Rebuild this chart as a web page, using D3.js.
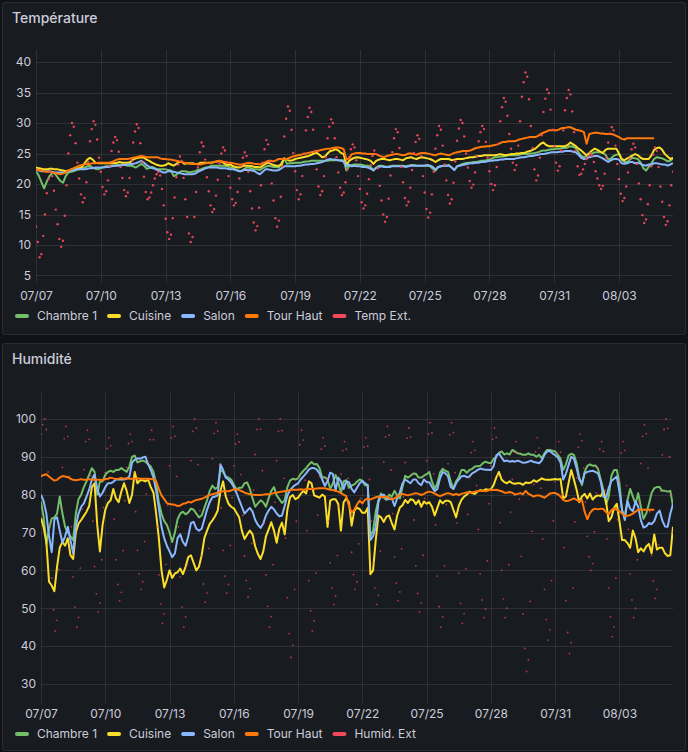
<!DOCTYPE html>
<html>
<head>
<meta charset="utf-8">
<script src="https://cdn.jsdelivr.net/npm/d3@7"></script>
<style>
  html, body { margin: 0; padding: 0; background: #111217; }
  svg { display: block; font-family: Inter, "Noto Sans", sans-serif; }
</style>
</head>
<body>
<svg id="chart" width="688" height="752"></svg>
<script>
// Sensor dashboard: temperature + humidity, 07/07 -> 08/05

// Time base: lines sampled every 3h, outdoor readings every 2h
const startDate = Date.UTC(2024, 6, 7);
const HOUR = 3600 * 1000;
const lineStepHours = 3;
const extStepHours = 2;
const spanDays = 29.5;

const seriesNames = ['Chambre 1', 'Cuisine', 'Salon', 'Tour Haut'];
const seriesColors = ['#73BF69', '#FADE2A', '#8AB8FF', '#FF780A'];
const extColor = '#F2495C';

const xTickLabels = ['07/07', '07/10', '07/13', '07/16', '07/19', '07/22', '07/25', '07/28', '07/31', '08/03'];
const tempTicks = [5, 10, 15, 20, 25, 30, 35, 40];
const humTicks = [30, 40, 50, 60, 70, 80, 90, 100];

// Température (°C)
const tempChambre = [
  22.1,21.4,20.3,19.3,20.4,21.3,21.8,21.7,21.1,20.5, 20.2,21.3,21.9,22,22.1,22.3,22.4,22.6,22.7,22.9,
  23,22.7,22.5,22.4,22.6,22.8,22.9,22.9,23,23, 23.1,23.1,23.2,23.1,23,23,22.9,22.7,23,23.3,
  23,22.5,22.6,22.8,22.6,22.4,22.4,22.4,22.4,22.3, 22.2,21.3,21.5,21.9,22.1,22.1,22,21.9,22,22.1,
  22.3,22.4,22.6,22.7,22.8,23,23,23,23,23, 23,22.9,22.7,22.6,22.4,22.2,22.1,22.4,22.7,22.7,
  22.5,22.4,22.4,22.3,22.6,22.8,23,22.9,22.8,22.8, 22.7,23.5,24.2,23.3,23.4,23.4,23.5,23.5,23.5,23.6,
  23.7,23.7,23.8,23.8,23.8,23.8,23.8,23.8,23.8,23.9, 23.9,23.9,23.9,23.9,23.9,22.2,22.9,23.1,23.2,23.2,
  23.2,23.1,23,23,22.8,22.2,22.7,23,23,22.9, 22.8,22.9,23,23,23,23,23,22.9,23,23.1,
  23.1,23,23,23,23,23,22.9,22.5,22.2,22.8, 22.9,23,23,23.1,22.7,22.3,22.9,23.1,23.3,23.4,
  23.5,23.5,23.6,23.6,23.7,23.8,23.8,23.9,24,24.2, 24.4,24.4,24.5,24.5,24.6,24.7,24.7,24.7,24.7,24.8,
  24.9,24.9,24.9,25,25,25.1,25.2,25.4,25.5,25.5, 25.6,25.7,25.7,25.8,25.8,25.9,25.9,26,26.2,26.1,
  25.9,25.2,24.6,24.4,24.6,24.9,25,25.2,25.2,25.2, 25.1,24.8,24,24.2,24.6,24.8,24.9,24,23.6,23.6,
  24,24.3,24.2,24.1,23.5,22.6,22.2,22.8,23.4,24.1, 24.4,24.3,24.2,24,23.7,23.8,24.2
];
const tempCuisine = [
  22.7,22.6,22.5,22.4,22.4,22.5,22.5,22.4,22.4,22.3, 22.2,22.1,22.2,22.4,22.5,22.6,22.6,22.8,23.4,24,
  24.3,24,23.5,23.4,23.4,23.4,23.4,23.4,23.4,23.4, 23.5,23.6,23.5,23.5,23.5,23.6,24,24.2,24.3,24.4,
  24.3,24,23.8,23.5,23.3,23.1,23,23,23.1,23.4, 23.2,23,23.3,23.6,23.6,23.3,23.4,23.4,23.4,23.3,
  23.3,23.5,23.5,23.5,23.5,23.5,23.6,23.7,23.8,23.6, 23.3,23.1,23.2,22.9,22.8,22.7,22.8,23,23,23,
  22.9,22.8,22.8,22.7,23,23.3,23.5,23.3,23.1,23, 23,23.2,24.2,24,23.8,23.9,24.1,24.2,24.3,24.4,
  24.5,24.6,24.8,25,25.1,24.8,24.4,24.5,25,25.4, 25.5,25.7,25.5,25.1,24.9,23.1,23.8,24.1,24.3,24.4,
  24.3,24.2,24.1,24,23.8,23.3,23.8,24,24.1,24.1, 24,23.9,24,24.1,24.1,24,23.9,24.2,24.3,24.4,
  24.2,24.1,24.3,24.4,24.3,24.2,24.1,23.9,23.6,23.9, 24.1,24.1,24.1,24.1,23.9,24,24.1,24.1,24.1,24.2,
  24.3,24.4,24.4,24.5,24.6,24.6,24.7,24.7,24.7,24.7, 24.7,24.8,24.9,24.8,24.7,24.8,24.9,24.9,25,25,
  25.1,25.1,25.3,25.4,25.6,25.8,26.2,26.6,26.8,26.4, 26.2,26.2,26.2,26.2,26.2,26.2,26.2,26.4,26.8,26.5,
  26.2,25.8,25.5,25.1,24.7,25.1,25.5,25.8,25.6,25.3, 25.1,25.6,25.8,25.8,25.8,25.8,25,24.1,23.9,24.2,
  24.4,24.7,24.9,24.7,24.3,24.1,24.1,24.1,24.7,25.6, 25.9,26,25.6,24.9,24.5,24.1,24.3
];
const tempSalon = [
  22.4,22.2,22.1,22.1,22.1,22.1,22,21.9,21.9,21.9, 21.9,21.9,22.1,22.2,22.3,22.4,22.4,22.4,22.4,22.5,
  22.6,22.6,22.7,22.7,22.7,22.7,22.8,22.8,22.9,23, 23,23,23.1,23.1,23.2,23.3,23.3,23.4,23.6,23.8,
  23.5,23.1,22.8,22.6,22.5,22.3,22.1,21.9,21.9,22.1, 22.1,22,21.9,21.8,21.7,21.6,21.6,21.6,21.6,21.7,
  22,22.2,22.4,22.6,22.7,22.7,22.7,22.7,22.6,22.6, 22.6,22.5,22.4,22.4,22.3,22.1,22.1,22.3,22.3,22.3,
  22.2,22.1,21.8,21.6,22,22.4,22.4,22.3,22.2,22.2, 22.3,22.6,22.9,22.9,22.9,22.9,22.9,23,23,23.1,
  23.2,23.2,23.3,23.3,23.4,23.5,23.6,23.8,24,24.1, 24,24,23.9,23.8,23.7,22.9,23.2,22.9,23,22.9,
  22.9,22.8,22.8,22.7,22.5,22.3,22.6,22.8,22.9,22.8, 22.8,22.8,22.9,22.9,22.9,22.9,22.9,22.8,22.9,23,
  23,23,23,23,23,23.1,23,22.8,22.4,22.8, 22.9,23,23,23,22.7,22.3,22.9,23,23.1,23.2,
  23.3,23.4,23.4,23.5,23.5,23.6,23.6,23.7,23.8,23.8, 23.9,23.9,24,24,24.1,24.1,24.1,24.1,24.2,24.3,
  24.4,24.4,24.5,24.6,24.6,24.7,24.8,24.9,24.9,25, 25.1,25.2,25.2,25.2,25.3,25.3,25.4,25.4,25.4,25.3,
  25.2,24.8,24.3,24.1,24.2,24.4,24.5,24.6,24.6,24.4, 24.2,23.9,23.6,23.9,24.1,24.1,24,23.4,23.3,23.4,
  23.6,23.6,23.4,23.5,23.3,23.1,23,23.2,23.2,23.4, 23.4,23.3,23.2,23.2,23,23.2,23.4
];
const tempTourHaut = [
  22.4,22.3,22.2,22.1,22,22,21.9,21.8,21.7,21.6, 21.7,21.9,22.2,22.4,22.6,22.8,23,23.1,23.2,23.3,
  23.3,23.4,23.4,23.5,23.5,23.5,23.5,23.5,23.6,23.8, 24,24.1,24.1,24.1,24.1,24.2,24.3,24.4,24.5,24.6,
  24.5,24.4,24.4,24.4,24.4,24.4,24.2,24.1,24.1,24, 24,23.9,23.8,23.7,23.6,23.5,23.4,23.3,23.3,23.3,
  23.2,23.2,23.3,23.4,23.5,23.5,23.6,23.7,23.8,23.7, 23.6,23.5,23.5,23.4,23.3,23.2,23.2,23.3,23.4,23.5,
  23.4,23.3,23.3,23.2,23.4,23.6,23.8,23.8,23.7,23.9, 24.1,24.1,24.1,24.1,24.3,24.5,24.6,24.7,24.8,24.9,
  25,25.1,25.2,25.3,25.4,25.5,25.6,25.7,25.8,25.8, 25.9,26,26,25.9,25.7,24,24.2,24.9,25,25.1,
  25.1,25,25,24.9,24.9,24.9,24.9,24.7,24.5,24.4, 24.6,24.7,24.8,24.9,24.9,24.8,24.7,24.8,25,25,
  24.9,24.8,25,25.1,25.1,25,24.9,24.8,24.7,24.9, 25,24.9,24.8,24.7,24.9,25.1,25.2,25.3,25.4,25.4,
  25.4,25.5,25.7,25.9,26,26.1,26.1,26.2,26.2,26.3, 26.4,26.5,26.7,26.9,26.9,27,27,27,27.1,27.3,
  27.4,27.5,27.6,27.7,27.7,27.7,27.9,28.2,28.4,28.6, 28.8,28.8,28.8,28.8,29,29.2,29.2,29.3,29.3,29.1,
  28.9,28.8,28.7,28.5,26.6,28.2,28.3,28.4,28.4,28.3, 28.3,28.2,28.2,28.2,28.1,27.9,27.7,27.4,27.3,27.5,
  27.5,27.5,27.5,27.5,27.5,27.5,27.5,27.5,27.5,27.5
];
const tempExt = [
  13,10.5,8,8.5,11.5,15,18.5,20.8,22,21.3,18.9,15.8,
  13.4,11,9.7,10.7,14.8,19.8,25,28,30,29.4,26.7,23.5,
  20.9,18.3,17,17.7,20.3,23.6,27,29,30.3,29.7,27.3,24.3,
  22,19.5,18.3,18.8,20.6,23,25.4,26.8,27.7,27.2,25.3,22.8,
  21,19,18,18.6,21,23.9,26.8,28.6,29.8,29.2,26.7,23.6,
  21.2,18.7,17.5,17.8,18.6,19.8,20.9,21.6,22,21.4,19.2,16.5,
  14.3,12.1,11,11.7,14.4,17.8,21.1,23.2,24.5,23.8,21,17.5,
  14.6,11.9,10.5,11.3,14.6,18.7,22.7,25.2,26.8,26.2,24,21.1,
  18.8,16.5,15.4,15.9,18.1,20.7,23.4,25,26,25.5,23.6,21.3,
  19.4,17.5,16.5,16.9,18.7,20.9,23,24.3,25.2,24.6,22,18.8,
  16,13.7,12.4,13.1,16.1,19.8,23.5,25.7,27.2,26.5,23.6,20.1,
  17.3,14.4,13,14,17.9,22.9,27.8,30.7,32.7,32,28.9,25.1,
  22.1,19,17.5,18.3,21.3,25,28.8,31,32.5,31.8,28.9,25.4,
  22.4,19.6,18.2,18.8,21.3,24.4,27.5,29.4,30.6,30,27.5,24.4,
  21.9,19.4,18.2,18.6,20.3,22.4,24.4,25.7,26.5,26,23.9,21.3,
  19.2,17,16,16.5,18.4,20.8,23.1,24.6,25.5,24.9,22.6,19.7,
  17.3,15,13.8,14.6,17.6,21.4,25.2,27.5,29,28.5,25.9,22.8,
  20.3,17.7,16.5,17.1,19.4,22.3,25.1,26.9,28,27.4,24.6,21.3,
  18.6,15.9,14.5,15.3,18.3,22,25.8,28,29.5,28.9,26.3,23.2,
  20.6,18.2,16.8,17.5,20.2,23.7,27.1,29.1,30.5,30,27.8,25,
  22.7,20.5,19.4,19.9,21.9,24.5,27,28.5,29.5,29,26.9,24.3,
  22.1,20,19,19.8,22.8,26.6,30.3,32.6,34.1,33.5,31.2,28.2,
  25.8,23.5,22.3,23.1,26.3,30.3,34.3,36.7,38.3,37.6,33.9,29.5,
  25.9,22.4,20.6,21.4,24.3,28,31.8,34,35.5,34.9,32.2,28.9,
  26.2,23.5,22.2,22.9,25.5,28.8,32.1,34.1,35.4,34.7,31.9,28.5,
  25.5,22.9,21.5,21.7,22.4,23.3,24.1,24.6,25,24.6,23.6,22.1,
  20.9,19.8,19.2,19.7,21.7,24.3,26.8,28.3,29.3,28.8,26.3,23.3,
  20.8,18.4,17.2,17.7,19.6,21.9,24.2,25.7,26.6,26,23.3,20.1,
  17.5,14.9,13.6,14.2,16.7,19.8,22.9,24.8,26,25.4,22.8,19.6,
  17.1,14.6,13.3,13.9,16.5,19.8,22
];

// Humidité (%)
const humChambre = [
  78.2,74,67,71,73.7,74,75,79.5,75,71.5, 70,69,68,75,78.8,80,82,83.5,85.3,87,
  86,80,83.5,83.5,85.2,86,86.3,86,86.5,86.5, 87,86.5,86,87.4,90,90.3,88.5,88.8,89,88.7,
  88,87.4,86,83,78,75,73,72,70,67.5, 70,73.5,75,75.5,74.8,75.3,76.3,76,75,74,
  74.5,76.5,78.5,81,82.4,81.5,82,86.5,86,84.8, 84.5,84,82.6,81.4,81.8,81.8,83,83.2,81.5,79,
  76.8,77.7,78.5,78,76.8,79,81,82,79.8,78.8, 77.8,78.5,82,83.7,84.2,84,84.3,85.5,86.3,87,
  87.9,88.6,88,88.1,87,84.5,84.6,84,81.5,83, 85.2,83.3,80.5,83.5,83.8,81.8,82.4,82.7,83.4,84,
  83.7,82.5,82.5,69,70.5,75.5,78.6,80.3,79.2,78.6, 80,79.5,81,79.8,79,82,85,84.5,85,85.6,
  85.5,84.5,84.5,85,85.4,86,83.5,81.5,83,85.8, 86.8,86.3,86,83.5,81.5,83.5,84.6,86.5,86.5,85.8,
  86.5,86.8,87.4,87.5,87.6,88.3,88.7,88.4,88.3,89.4, 90,91,91.4,90.6,90.9,90.6,91.8,91.4,90.9,90.8,
  90.5,90.5,90.9,90.5,90.5,90,90.5,89.6,90.9,91.8, 91.8,91.6,91.4,90.5,89.5,86.5,88,90.3,90.8,90.5,
  88.3,84.5,82.5,86,87.6,88,87.6,87.7,86.8,84, 81.3,77.5,79.5,85,86.5,86.5,83,75.5,74.5,78.6,
  81.5,79.5,77.5,80.4,76.8,73.6,75,77.5,80.4,81.7, 82,82,81,81,80.8,81,77
];
const humCuisine = [
  73.8,71.3,67.5,57,56,54.5,61,66,67.5,66.5, 68.5,64,63,70,72.3,73.3,74.4,75.5,77,82,
  83,72,65,72,76,77.8,78.5,81.5,79,78, 80.8,83,81,77.8,80,86,83,83.8,83.8,83.5,
  84,82,80.5,75,68.5,60,55.5,57.5,60,58, 59.2,59.5,60.5,59,61,63.5,64,62,60,61,
  64,68.5,70.5,72.3,73.2,74.3,75.8,81,83.5,79.5, 77.6,76.8,76.4,75.2,74,70.5,68.3,69.5,70.5,69.5,
  66.3,64.3,63,65,69,70.8,72.7,70.5,67.3,71, 72.6,69.5,76,79.3,79.9,78.8,79.2,80.2,81,80.3,
  83.5,83,79.8,79.5,79.2,80,79.5,71.5,78.4,78.8, 78.8,77.5,70.5,78,79,78,71.8,75.8,76.6,76.2,
  75.2,75.2,76.5,59,60,68,74.5,74,72.8,74.2, 74.5,72.5,70.8,74.5,76.6,77.2,78.6,77.8,78.8,78.6,
  77.5,78.5,76.8,78.2,77.6,78,76.8,74.5,76.5,78.5, 77.7,78.4,78.4,78,76,74,77,78.6,79.5,80,
  80.8,80.4,80.2,80.8,81.2,81,81.4,81.3,81.4,82.5, 84.5,86,84,83.3,83,83.5,83,82.9,83,83,
  82.6,83.2,83.1,83.2,83.8,83.4,83.8,84.3,84,83.9, 83.9,84,84.1,84,84.1,79,79.5,83,86.5,84,
  81.3,78,79.5,80.2,79,80.3,78.7,79.5,79.8,79.6, 81,78.2,73,74,76.5,77.6,73,68,68,67.2,
  66,70.5,68.5,64.8,65.8,65,66.3,67,64.5,69.5, 65.5,66,66,64.5,63.8,64,71.5
];
const humSalon = [
  80,78.2,75,69,64.8,73.5,74,70.5,67.3,69, 71.5,68,64.5,71.6,75,76.8,77.7,79.5,81.3,84,
  85.3,81.5,79.5,80.5,82,83,83,83.4,84,84, 84,84,84.2,84.8,88.5,89.2,89.6,89.5,89.8,90,
  88,86.5,84.5,81,76.5,71.5,68.5,66.5,65,63.5, 64.5,68.5,69.5,67.5,66.5,69,72.5,72.8,71,70.5,
  71,73.5,76,78,79.3,79.5,79.8,88,86.5,84.5, 84,83.2,82,80.5,78.6,76.8,75,75.8,76.5,75.5,
  73.3,72,71.2,72.4,74.5,75.8,76.8,76.1,75,74.3, 74.5,77,79.8,81.2,82,82.6,83,84,84.8,85.6,
  86.6,87,87,86.6,85.6,84,82.3,83.6,85.8,85.5, 81,84.5,83.5,81.5,83.5,83.3,81.5,80.6,81.8,83,
  83.6,83,82.5,68,69,71.5,78,79.8,80,79, 78.8,79,77,79,80.6,83,84,83.5,83,84,
  84,83,82.5,84,83.3,83.3,82,80.9,81.5,84.3, 86,85.6,84.8,82,81.5,83,84,84.8,85,84.6,
  84.8,85.6,86,86.5,86.9,86.7,86.6,86.6,86.5,87.5, 90.3,90.9,89.8,88.8,89,88.7,88.9,88.7,89,88.7,
  88.4,88.5,88.7,89,88.6,88.5,88.3,89,90.5,91.4, 91.5,90.9,90.4,89.8,88.5,84,85.5,87.8,90,89.5,
  87,84,83,85.6,86,86.2,86.3,86,85.6,83.5, 79.4,79.2,81.8,83.6,84.2,84.8,80.8,76,73.3,78.3,
  76.3,75.6,78.2,76.8,73.2,71.3,71.6,72.5,72.2,73, 75,75.8,73.2,71.6,71.5,75,77.5
];
const humTourHaut = [
  84.8,85.2,85.4,84.8,84.2,83.7,83.9,84.5,84.9,84.8, 84.6,84.2,83.9,83.8,83.9,84.1,83.9,83.9,84.1,83.9,
  84,83.9,83.9,83.8,84.1,84.2,84.5,84.3,84.1,84.2, 84.4,84.2,84.3,84.2,84.2,84.2,84.3,84.2,84.2,84.2,
  84.2,84.1,84,83.5,81.5,79.8,78.8,77.8,77.5,77.4, 77.3,77,77.1,77.6,77.7,78.1,77.9,78.3,78.6,78.7,
  78.9,79.2,79.6,79.9,80.1,80.3,80.5,80.7,80.9,80.9, 80.9,81.1,81.4,81.4,81.2,80.9,80.5,80.3,80.1,80,
  79.9,79.9,79.9,80,80.1,80.1,80.2,80.4,80.5,80.7, 80.8,80.9,81,81.2,81.3,81.3,81.3,81.4,81.3,81.4,
  81.5,81.5,81.5,81.6,81.7,81.7,81.7,81.5,81.3,81.2, 81,80.8,80.4,80,79.6,77,75.3,76,77.4,78.4,
  77.7,78.6,79,78.7,79,79.3,79.5,79.4,79.4,79.5, 79.1,78.8,79,79.5,79.9,80.2,80,79.8,80,80.2,
  80.4,80.2,79.9,80.2,80.6,80.8,80.6,80.3,79.9,79.6, 79.9,80.2,80.4,80.2,79.9,80.2,79.9,80.2,80.4,80.6,
  80.5,80.6,80.8,80.9,81,81,80.9,81.1,81.3,81.2, 81.3,81.1,80.9,80.5,80.5,80.7,80.5,80,80.2,80.4,
  80.1,81,80.2,79.9,79.5,79.8,79.8,79.5,79.2,79.7, 80.3,80.4,80.4,80.1,79.5,78.6,78.3,78.4,78.7,79,
  78.6,78.2,78.6,75.5,73.5,75.2,76,76.3,76.1,76.3, 76.2,75.4,74.8,75.9,76.4,76,75.6,75,74.4,74.4,
  74.6,75,75.5,76,76,76,76,76,76,76
];
const humExt = [
  96,98.5,100,97.2,86,72,58,49.6,44,46.8,60.2,76.4,
  87.2,94.8,98,95.4,84.8,71.5,58.3,50.3,45,47.6,60.6,76.2,
  86.6,94,97,94.6,85,73,61,53.8,49,51.4,62.8,76.6,
  85.8,92.2,95,92.9,84.3,73.5,62.8,56.3,52,54.2,65.2,78.4,
  87.2,93.5,96,94,85.8,75.5,65.3,59.1,55,57,67.6,80.2,
  88.6,94.5,97,94.5,84.3,71.5,58.8,51.1,46,48.5,61.6,77.2,
  87.6,95,98,95.4,84.8,71.5,58.3,50.3,45,47.7,61.5,78,
  89,96.7,100,97.6,87.9,75.8,63.7,56.4,51.6,54,65.8,80,
  89.5,96.2,99,96.8,87.8,76.5,65.3,58.5,54,56.3,66.6,79.2,
  87.6,93.4,96,93.9,85.3,74.5,63.8,57.3,53,55.2,67.1,81.2,
  90.6,97.2,100,97.3,86.3,72.5,58.8,50.5,45,47.8,61.5,78,
  89,96.7,100,96.9,84.3,68.5,52.8,43.3,37,40.2,55,73,
  84.4,93.2,97,94.4,83.8,70.5,57.3,49.3,44,46.7,59.3,74.6,
  84.8,92,95,92.8,84,73,62,55.4,51,53.2,63.9,76.8,
  85.4,91.6,94,92,84.3,74.5,64.8,58.9,55,57,67,79,
  87,92.6,95,92.8,84,73,62,55.4,51,53.4,65.1,79.2,
  88.6,95.2,98,95.7,86.5,75,63.5,56.6,52,54.3,65.7,79.4,
  88.5,94.9,97.6,95.2,85.5,73.3,61.2,53.9,49,51.4,64,79,
  89,96,99,96.3,85.5,72,58.5,50.4,45,47.7,61.2,77.4,
  88.2,95.8,99,96.4,85.8,72.5,59.3,51.3,46,48.6,60.4,74.8,
  84.4,91.1,94,91.7,82.4,70.8,59.1,52.2,47.5,49.8,62.5,77.6,
  87.6,94.6,97.6,95.1,85.1,72.6,60,52.5,47.5,50,61.5,75.4,
  84,91.2,94,91,78.8,63.7,48.5,39.4,33.3,36.4,51.8,70.3,
  82.7,91.3,95,92.3,81.7,68.3,55,47,41.6,44.3,57.3,73.1,
  83.5,90.9,94,91.2,80,66,52,43.6,38,40.9,55.4,72.8,
  84.4,92.5,96,94.2,87,78,69,63.6,60,61.8,70.2,80.4,
  87,92,94,91.4,81.1,68.3,55.4,47.7,42.5,45.1,58,73.4,
  83.7,91,94,91.7,82.4,70.8,59.1,52.2,47.5,50,62.8,78,
  88.2,95.4,98.4,96.1,87,75.5,64,57.2,52.6,55,66.8,81,
  90.5,97.2,100,97.5,90,80,70
];

const panels = [
  {
    title: 'Température', boxTop: 2, boxHeight: 332,
    plot: { left: 36, right: 673, top: 50, bottom: 283 },
    yDomain: [3.77, 41.97], yTicks: tempTicks,
    lines: [tempChambre, tempCuisine, tempSalon, tempTourHaut],
    ext: tempExt, extName: 'Temp Ext.', extR: 1.2, extOpacity: 0.95,
    xPad: 8, legendY: 316
  },
  {
    title: 'Humidité', boxTop: 343, boxHeight: 407,
    plot: { left: 41, right: 673, top: 392, bottom: 703 },
    yDomain: [24.98, 107.1], yTicks: humTicks,
    lines: [humChambre, humCuisine, humSalon, humTourHaut],
    ext: humExt, extName: 'Humid. Ext', extR: 0.9, extOpacity: 0.7,
    xPad: 6, legendY: 734
  }
];

const svg = d3.select('#chart');
const parseTick = d3.utcParse('%Y/%m/%d');
const tickDates = xTickLabels.map(s => parseTick('2024/' + s));
const endDate = startDate + spanDays * 24 * HOUR;

panels.forEach((p, pi) => drawPanel(p, pi));

function drawPanel(p, pi) {
  const g = svg.append('g');

  // panel frame
  g.append('rect')
    .attr('x', 2.5).attr('y', p.boxTop + 0.5)
    .attr('width', 683).attr('height', p.boxHeight)
    .attr('rx', 2)
    .attr('fill', '#181b1f')
    .attr('stroke', 'rgba(204,204,220,0.12)');

  g.append('text')
    .attr('x', 12).attr('y', p.boxTop + 21)
    .attr('fill', '#ccccdc')
    .attr('font-size', 14).attr('font-weight', 500)
    .text(p.title);

  const x = d3.scaleUtc().domain([startDate, endDate]).range([p.plot.left, p.plot.right]);
  const y = d3.scaleLinear().domain(p.yDomain).range([p.plot.bottom, p.plot.top]);

  // grid
  const grid = g.append('g').attr('stroke', 'rgba(204,204,220,0.12)').attr('stroke-width', 1);
  grid.selectAll('line.h').data(p.yTicks).join('line').attr('class', 'h')
    .attr('x1', p.plot.left).attr('x2', p.plot.right)
    .attr('y1', d => Math.round(y(d)) + 0.5).attr('y2', d => Math.round(y(d)) + 0.5);
  grid.selectAll('line.v').data(tickDates).join('line').attr('class', 'v')
    .attr('x1', d => Math.round(x(d)) + 0.5).attr('x2', d => Math.round(x(d)) + 0.5)
    .attr('y1', p.plot.top).attr('y2', p.plot.bottom);

  // axes
  const yAxis = g.append('g')
    .attr('transform', `translate(${p.plot.left},0)`)
    .call(d3.axisLeft(y).tickValues(p.yTicks).tickSize(0).tickPadding(5));
  const xAxis = g.append('g')
    .attr('transform', `translate(0,${p.plot.bottom})`)
    .call(d3.axisBottom(x).tickValues(tickDates).tickFormat(d3.utcFormat('%m/%d')).tickSize(0).tickPadding(p.xPad));
  [yAxis, xAxis].forEach(a => {
    a.select('.domain').remove();
    a.attr('font-family', 'Inter, "Noto Sans", sans-serif').attr('font-size', 12).attr('color', '#ccccdc');
  });

  // clip
  const clipId = 'clip' + pi;
  g.append('clipPath').attr('id', clipId).append('rect')
    .attr('x', p.plot.left).attr('y', p.plot.top)
    .attr('width', p.plot.right - p.plot.left).attr('height', p.plot.bottom - p.plot.top);
  const plot = g.append('g').attr('clip-path', `url(#${clipId})`);

  const line = d3.line()
    .x((d, i) => x(startDate + i * lineStepHours * HOUR))
    .y(d => y(d));

  p.lines.forEach((vals, k) => {
    plot.append('path')
      .datum(vals)
      .attr('fill', 'none')
      .attr('stroke', seriesColors[k])
      .attr('stroke-width', 2)
      .attr('stroke-linejoin', 'round')
      .attr('d', line);
  });

  plot.append('g').selectAll('circle').data(p.ext).join('circle')
    .attr('cx', (d, i) => x(startDate + i * extStepHours * HOUR))
    .attr('cy', d => y(d))
    .attr('r', p.extR)
    .attr('fill', extColor)
    .attr('opacity', p.extOpacity);

  // legend
  const leg = g.append('g').attr('font-size', 12).attr('fill', '#ccccdc');
  const names = seriesNames.concat([p.extName]);
  const colors = seriesColors.concat([extColor]);
  let lx = 15;
  names.forEach((name, k) => {
    leg.append('rect')
      .attr('x', lx).attr('y', p.legendY - 2)
      .attr('width', 14).attr('height', 4).attr('rx', 2)
      .attr('fill', colors[k]);
    const t = leg.append('text')
      .attr('x', lx + 22).attr('y', p.legendY).attr('dy', '0.35em')
      .text(name);
    lx += 22 + t.node().getComputedTextLength() + 10;
  });
}
</script>
</body>
</html>
